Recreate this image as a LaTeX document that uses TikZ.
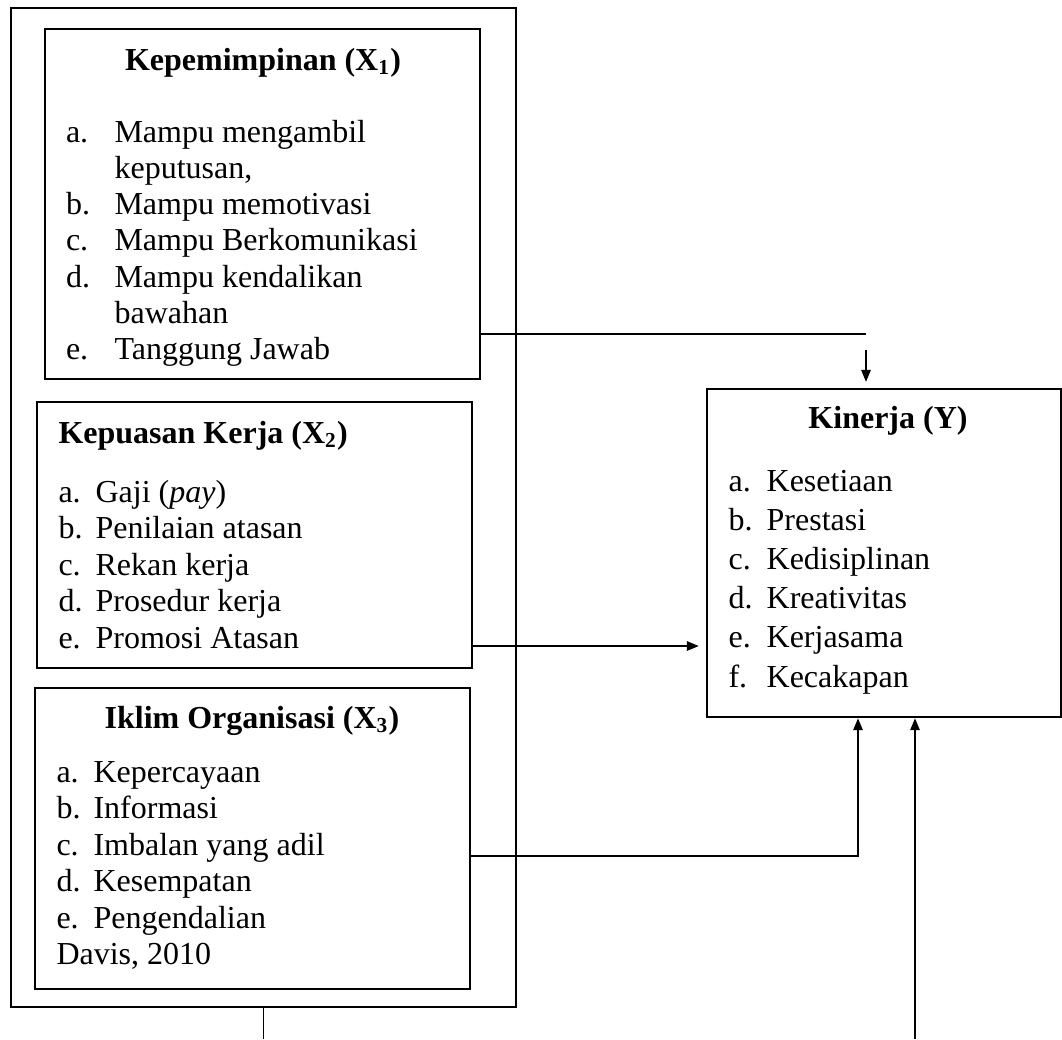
\documentclass[tikz,border=0pt]{standalone}
\usepackage{fontspec}
\setmainfont{Liberation Serif}
\usetikzlibrary{fit}
\usetikzlibrary{arrows.meta}

\tikzset{
  box/.style={draw, line width=0.9pt, inner sep=0pt},
  heading/.style={font=\fontsize{12}{14}\selectfont\bfseries, inner sep=0pt, anchor=base},
  itemlist/.style={font=\fontsize{12}{#1}\selectfont, inner sep=0pt, anchor=base west},
  itemlist/.default=13.7pt,
  link/.style={line width=0.7pt},
  arr/.style={link, -{Triangle[length=4.5pt,width=3.5pt]}}
}

\begin{document}
\begin{tikzpicture}[x=0.375pt, y=-0.375pt]

    \useasboundingbox (0,0) rectangle (1062,1039);

    \node[box, fit={(11,8) (516,1007)}] (Frame) {};
    \node[box, fit={(45,29) (480,379)}] (X1) {};
    \node[box, fit={(37,402) (472,668)}] (X2) {};
    \node[box, fit={(35,688) (470,989)}] (X3) {};
    \node[box, fit={(707,389) (1061,717)}] (Y) {};

    \node (TitleX1) [heading] at (263,70) {Kepemimpinan (X\textsubscript{1})};
    \node (ListX1) [itemlist=13.6pt] at (65.5,142) {\begin{tabular}[t]{@{}p{18.2pt}@{}l@{}}
      a. & Mampu mengambil \\
         & keputusan, \\
      b. & Mampu memotivasi \\
      c. & Mampu Berkomunikasi \\
      d. & Mampu kendalikan \\
         & bawahan \\
      e. & Tanggung Jawab
    \end{tabular}};

    \node (TitleX2) [heading, anchor=base west] at (58,443) {Kepuasan Kerja (X\textsubscript{2})};
    \node (ListX2) [itemlist] at (58,502) {\begin{tabular}[t]{@{}p{13.9pt}@{}l@{}}
      a. & Gaji (\textit{pay}) \\
      b. & Penilaian atasan \\
      c. & Rekan kerja \\
      d. & Prosedur kerja \\
      e. & Promosi Atasan
    \end{tabular}};

    \node (TitleX3) [heading] at (252,728) {Iklim Organisasi (X\textsubscript{3})};
    \node (ListX3) [itemlist] at (56,782) {\begin{tabular}[t]{@{}p{13.9pt}@{}l@{}}
      a. & Kepercayaan \\
      b. & Informasi \\
      c. & Imbalan yang adil \\
      d. & Kesempatan \\
      e. & Pengendalian \\
      \multicolumn{2}{@{}l@{}}{Davis, 2010}
    \end{tabular}};

    \node (TitleY) [heading] at (888,428) {Kinerja (Y)};
    \node (ListY) [itemlist=14.7pt] at (728,491) {\begin{tabular}[t]{@{}p{14.3pt}@{}l@{}}
      a. & Kesetiaan \\
      b. & Prestasi \\
      c. & Kedisiplinan \\
      d. & Kreativitas \\
      e. & Kerjasama \\
      f. & Kecakapan
    \end{tabular}};

    \coordinate (turnA) at (866,334);
    \coordinate (dropA) at (866,350);
    \coordinate (rowB) at (0,646);
    \coordinate (turnC) at (858,856);
    \coordinate (footA) at (263.5,1039);
    \coordinate (footB) at (915,1039);

    \draw[link] (X1.east |- turnA) -- (turnA);
    \draw[arr, shorten >=2.2pt] (dropA) -- (Y.north -| dropA);
    \draw[arr, shorten >=2.6pt] (X2.east |- rowB) -- (Y.west |- rowB);
    \draw[arr] (X3.east |- turnC) -| (Y.south -| turnC);
    \draw[link] (Frame.south) -- (footA);
    \draw[arr] (footB) -- (Y.south -| footB);

\end{tikzpicture}
\end{document}
